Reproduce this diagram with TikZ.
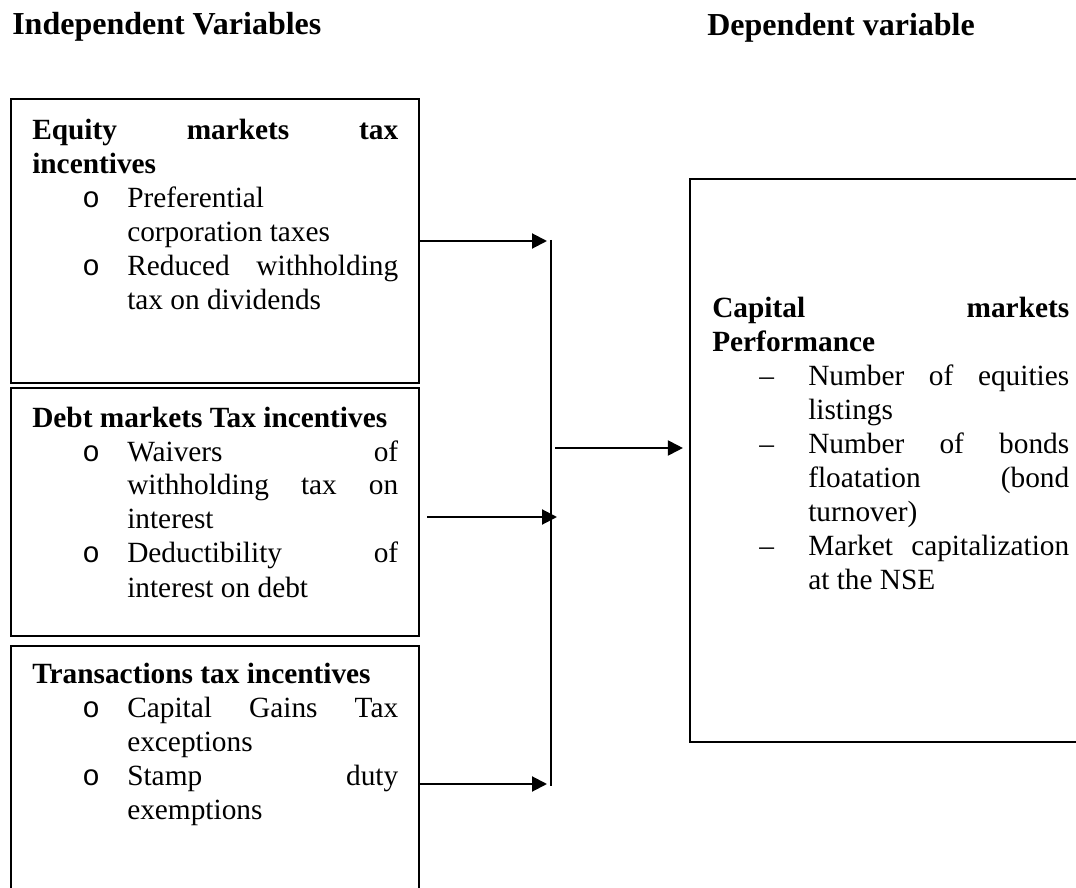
\documentclass[tikz,border=0pt]{standalone}
\usepackage{fontspec}
\setmainfont{Liberation Serif}
\newfontfamily\monof{Liberation Mono}
\usetikzlibrary{arrows.meta,fit}
\newcommand{\bodyfont}{\fontsize{22}{25.5}\selectfont}
\newcommand{\headfont}{\fontsize{24}{28}\selectfont\bfseries}
\newcommand{\ptext}[2]{\parbox[t]{#1}{\bodyfont\parindent=0pt\hyphenpenalty=10000\exhyphenpenalty=10000\tolerance=10000\hbadness=10000\relax #2}}
\newcommand{\litem}[1]{\par\leftskip=71.25pt\noindent\llap{\makebox[33.75pt][l]{\monof o}}#1}
\newcommand{\ritem}[1]{\par\leftskip=72pt\noindent\llap{\makebox[36.75pt][l]{–}}#1}
\begin{document}
\begin{tikzpicture}[x=0.75pt,y=-0.75pt,
  boxst/.style={draw, line width=1.6pt, inner sep=0pt},
  txt/.style={anchor=base west, inner sep=0pt},
  arr/.style={line width=1.5pt, -{Triangle[length=11.25pt,width=11.25pt]}},
  busline/.style={line width=1.5pt}]
\useasboundingbox (0,0) rectangle (1076,888);
\clip (0,0) rectangle (1076,888);
% headers
\node[txt] (h1) at (12,35) {\headfont Independent Variables};
\node[txt] (h2) at (707,36) {\headfont Dependent variable};
% boxes
\node[boxst, fit={(11,99)(419,383)}] (b1) {};
\node[boxst, fit={(11,388)(419,636)}] (b2) {};
\node[boxst, fit={(11,646)(419,922)}] (b3) {};
\node[boxst, fit={(690,179)(1095,742)}] (rb) {};
% texts
\node[txt] (t1) at (32,140) {\ptext{274.5pt}{\textbf{Equity markets tax\linebreak incentives}
  \litem{Preferential\linebreak corporation taxes}
  \litem{Reduced withholding\linebreak tax on dividends}}};
\node[txt] (t2) at (32,427) {\ptext{274.5pt}{\textbf{Debt markets Tax incentives}
  \litem{Waivers of\linebreak withholding tax on\linebreak interest}
  \litem{Deductibility of\linebreak interest on debt}}};
\node[txt] (t3) at (32,683) {\ptext{274.5pt}{\textbf{Transactions tax incentives}
  \litem{Capital Gains Tax\linebreak exceptions}
  \litem{Stamp duty\linebreak exemptions}}};
\node[txt] (t4) at (712,318) {\ptext{267.75pt}{\textbf{Capital markets\linebreak Performance}
  \ritem{Number of equities\linebreak listings}
  \ritem{Number of bonds\linebreak floatation (bond\linebreak turnover)}
  \ritem{Market capitalization\linebreak at the NSE}}};
% connectors
\coordinate (bt) at (551,240);
\coordinate (bb) at (551,786);
\draw[busline] (bt) -- (bb);
\draw[arr, shorten >=3pt] (b1.east) -- (b1.east -| bt);
\coordinate (a2s) at (427,517);
\coordinate (a2e) at (557,517);
\draw[arr] (a2s) -- (a2e);
\draw[arr, shorten >=3pt] (b3.east) -- (b3.east -| bt);
\coordinate (a4s) at (555,448);
\draw[arr, shorten >=4.5pt] (a4s) -- (a4s -| rb.west);
\end{tikzpicture}
\end{document}
